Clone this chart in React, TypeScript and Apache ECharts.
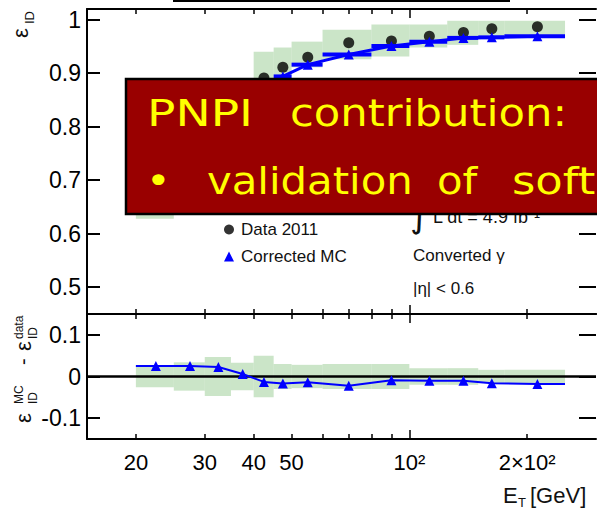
import React, { useEffect, useRef } from 'react';
import * as echarts from 'echarts';

// Photon-ID efficiency binning in E_T [GeV]
const binLow = [20, 25, 30, 35, 40, 45, 50, 60, 80, 100, 125, 150, 175];
const binHigh = [25, 30, 35, 40, 45, 50, 60, 80, 100, 125, 150, 175, 250];
const binCenter = [22.5, 27.5, 32.5, 37.5, 42.5, 47.5, 55, 70, 90, 112.5, 137.5, 162.5, 212.5];

// Data 2011 efficiency and its uncertainty band
const effData = [0.66, 0.74, 0.8, 0.845, 0.891, 0.911, 0.93, 0.957, 0.96, 0.969, 0.976, 0.983, 0.987];
const effDataLow = [0.628, 0.705, 0.755, 0.812, 0.842, 0.874, 0.911, 0.926, 0.931, 0.948, 0.953, 0.97, 0.97];
const effDataHigh = [0.692, 0.775, 0.845, 0.878, 0.94, 0.948, 0.959, 0.981, 0.991, 0.991, 0.998, 0.998, 0.998];

// Corrected MC efficiency
const effMC = [0.685, 0.765, 0.823, 0.851, 0.878, 0.894, 0.916, 0.935, 0.951, 0.959, 0.966, 0.967, 0.969];

// MC - data difference and the half-width of its uncertainty band
const diffMC = [0.025, 0.025, 0.023, 0.006, -0.013, -0.017, -0.014, -0.022, -0.009, -0.01, -0.01, -0.016, -0.018];
const diffErr = [0.026, 0.034, 0.047, 0.033, 0.05, 0.03, 0.028, 0.03, 0.03, 0.02, 0.02, 0.016, 0.016];

// Axis ticks and labels
const xMinorTicks = [20, 30, 40, 50, 60, 70, 80, 90, 200];
const xMajorTicks = [100];
const xLabelValues = [20, 30, 40, 50, 100, 200];
const xLabelText = ['20', '30', '40', '50', '10²', '2×10²'];
const effTicks = [0.5, 0.6, 0.7, 0.8, 0.9, 1];
const diffTicks = [-0.1, 0, 0.1];

const FONT = "'Liberation Sans', Arial, Helvetica, sans-serif";
const SLIDE_FONT = "'Comic Sans MS', 'DejaVu Sans', sans-serif";
const BLUE = '#0000ff';
const BAND = 'rgba(160, 208, 155, 0.55)';

function xAxis(gridIndex: number, position: string, ticks: number[], len: number, showLine: boolean, labels = false) {
  return {
    type: 'log',
    logBase: 10,
    min: 15,
    max: 300,
    gridIndex,
    position,
    axisLine: { show: showLine, onZero: false, lineStyle: { color: '#000', width: 2 } },
    axisTick: { show: true, inside: true, length: len, customValues: ticks, lineStyle: { color: '#000', width: 1.5 } },
    axisLabel: labels
      ? {
          show: true,
          customValues: xLabelValues,
          margin: 12,
          fontSize: 22,
          fontFamily: FONT,
          color: '#000',
          formatter: (v: number) => {
            const i = xLabelValues.findIndex((x) => Math.abs(x - v) / x < 1e-3);
            return i >= 0 ? xLabelText[i] : '';
          },
        }
      : { show: false },
    splitLine: { show: false },
    minorTick: { show: false },
  };
}

function yAxis(gridIndex: number, position: string, min: number, max: number, ticks: number[], labels: boolean, fmt?: (v: number) => string) {
  return {
    type: 'value',
    gridIndex,
    position,
    min,
    max,
    axisLine: { show: position === 'left', onZero: false, lineStyle: { color: '#000', width: 2 } },
    axisTick: { show: true, inside: true, length: position === 'left' ? 13 : 17, customValues: ticks, lineStyle: { color: '#000', width: 2 } },
    axisLabel: labels
      ? { show: true, customValues: ticks, margin: 6, fontSize: 23, fontFamily: FONT, color: '#000', formatter: fmt }
      : { show: false },
    splitLine: { show: false },
  };
}

const bandRender = (params: any, api: any) => {
  const p1 = api.coord([api.value(0), api.value(3)]);
  const p2 = api.coord([api.value(1), api.value(2)]);
  return {
    type: 'rect',
    shape: { x: p1[0], y: p1[1], width: p2[0] - p1[0], height: p2[1] - p1[1] },
    style: { fill: BAND },
  };
};

const barRender = (params: any, api: any) => {
  const p1 = api.coord([api.value(0), api.value(2)]);
  const p2 = api.coord([api.value(1), api.value(2)]);
  return {
    type: 'line',
    shape: { x1: p1[0], y1: p1[1], x2: p2[0], y2: p2[1] },
    style: { stroke: BLUE, lineWidth: 4 },
  };
};

const last = binCenter.length - 1;
const diffLine: any[] = [
  { value: [binLow[0], diffMC[0]], symbol: 'none' },
  ...binCenter.map((x, i) => [x, diffMC[i]]),
  { value: [binHigh[last], diffMC[last]], symbol: 'none' },
];

const txt = (text: string, x: number, y: number, size: number, extra: any = {}) => ({
  type: 'text',
  x,
  y,
  z: 50,
  style: { text, x: 0, y: 0, font: `${size}px ${FONT}`, fill: '#111', verticalAlign: 'middle', align: 'left', ...extra },
});

const slideWord = (text: string, x: number, y: number, scaleX: number) => ({
  type: 'text',
  x,
  y,
  z: 120,
  scaleX,
  style: { text, x: 0, y: 0, font: `38px ${SLIDE_FONT}`, fill: '#ffff00', verticalAlign: 'middle', align: 'left' },
});

const rot = (text: string, lx: number, ly: number, size: number) => ({
  type: 'text',
  style: { text, x: lx, y: ly, font: `${size}px ${FONT}`, fill: '#111', verticalAlign: 'middle', align: 'left' },
});

const option: any = {
  animation: false,
  backgroundColor: '#fff',
  grid: [
    { left: 87, top: 9, width: 509, height: 305 },
    { left: 87, top: 314, width: 509, height: 125 },
  ],
  xAxis: [
    xAxis(0, 'bottom', xMinorTicks, 5, true),
    xAxis(0, 'top', xMinorTicks, 5, true),
    xAxis(0, 'bottom', xMajorTicks, 9, false),
    xAxis(0, 'top', xMajorTicks, 9, false),
    xAxis(1, 'bottom', xMinorTicks, 5, true, true),
    xAxis(1, 'top', xMinorTicks, 5, true),
    xAxis(1, 'bottom', xMajorTicks, 9, false),
    xAxis(1, 'top', xMajorTicks, 9, false),
  ],
  yAxis: [
    yAxis(0, 'left', 0.45, 1.02, effTicks, true, (v: number) => (Math.abs(v - 1) < 1e-6 ? '1' : v.toFixed(1))),
    yAxis(0, 'right', 0.45, 1.02, effTicks, false),
    yAxis(1, 'left', -0.15, 0.15, diffTicks, true, (v: number) => (Math.abs(v) < 1e-6 ? '0' : v.toFixed(1))),
    yAxis(1, 'right', -0.15, 0.15, diffTicks, false),
  ],
  legend: {
    orient: 'vertical',
    left: 219,
    top: 216,
    itemWidth: 10,
    itemHeight: 10,
    itemGap: 10,
    data: [
      { name: 'Data 2011', icon: 'circle' },
      { name: 'Corrected MC', icon: 'triangle' },
    ],
    textStyle: { fontSize: 17, fontFamily: FONT, color: '#111', padding: [0, 0, 0, 2] },
  },
  series: [
    {
      type: 'custom',
      name: 'data band',
      xAxisIndex: 0,
      yAxisIndex: 0,
      z: 1,
      renderItem: bandRender,
      encode: { x: [0, 1], y: [2, 3] },
      data: binLow.map((lo, i) => [lo, binHigh[i], effDataLow[i], effDataHigh[i]]),
    },
    {
      type: 'scatter',
      name: 'Data 2011',
      xAxisIndex: 0,
      yAxisIndex: 0,
      z: 3,
      symbol: 'circle',
      symbolSize: 11,
      itemStyle: { color: '#000' },
      data: binCenter.map((x, i) => [x, effData[i]]),
    },
    {
      type: 'custom',
      name: 'mc bins',
      xAxisIndex: 0,
      yAxisIndex: 0,
      z: 4,
      renderItem: barRender,
      encode: { x: [0, 1], y: 2 },
      data: binLow.map((lo, i) => [lo, binHigh[i], effMC[i]]),
    },
    {
      type: 'line',
      name: 'Corrected MC',
      xAxisIndex: 0,
      yAxisIndex: 0,
      z: 5,
      symbol: 'triangle',
      symbolSize: 10,
      lineStyle: { color: BLUE, width: 3 },
      itemStyle: { color: BLUE },
      data: binCenter.map((x, i) => [x, effMC[i]]),
    },
    {
      type: 'line',
      name: 'zero',
      xAxisIndex: 4,
      yAxisIndex: 2,
      z: 1,
      data: [],
      markLine: {
        silent: true,
        symbol: 'none',
        label: { show: false },
        lineStyle: { color: '#000', width: 2.5, type: 'solid' },
        data: [{ yAxis: 0 }],
      },
    },
    {
      type: 'custom',
      name: 'diff band',
      xAxisIndex: 4,
      yAxisIndex: 2,
      z: 2,
      renderItem: bandRender,
      encode: { x: [0, 1], y: [2, 3] },
      data: binLow.map((lo, i) => [lo, binHigh[i], -diffErr[i], diffErr[i]]),
    },
    {
      type: 'line',
      name: 'MC - data',
      xAxisIndex: 4,
      yAxisIndex: 2,
      z: 5,
      symbol: 'triangle',
      symbolSize: 10,
      lineStyle: { color: BLUE, width: 2 },
      itemStyle: { color: BLUE },
      data: diffLine,
    },
  ],
  graphic: [
    { type: 'line', z: 50, shape: { x1: 173, y1: 1, x2: 510, y2: 1 }, style: { stroke: '#000', lineWidth: 2 } },
    // y-axis titles
    {
      type: 'group',
      x: 0,
      y: 38,
      rotation: Math.PI / 2,
      children: [rot('ε', 0, 20, 22), rot('ID', 14, 29, 13)],
    },
    {
      type: 'group',
      x: 0,
      y: 423,
      rotation: Math.PI / 2,
      children: [
        rot('ε', 0, 23, 22),
        rot('MC', 19, 19, 12),
        rot('ID', 19, 33, 12),
        rot('-', 58, 23, 20),
        rot('ε', 72, 23, 22),
        rot('data', 84, 19, 12),
        rot('ID', 84, 33, 12),
      ],
    },
    // x-axis title
    txt('E', 503, 495, 22),
    txt('T', 518, 502, 13),
    txt('[GeV]', 530, 495, 22),
    // plot annotations
    txt('∫', 410, 214, 36, { font: "36px 'DejaVu Sans', sans-serif" }),
    txt('L dt = 4.9 fb⁻¹', 433, 217, 18),
    txt('Converted γ', 413, 255, 17),
    txt('|η| < 0.6', 413, 288, 17),
    // slide caption box
    {
      type: 'rect',
      z: 100,
      shape: { x: 126, y: 79, width: 490, height: 135 },
      style: { fill: '#990000', stroke: '#000', lineWidth: 2.5 },
    },
    slideWord('PNPI', 147, 113, 1.24),
    slideWord('contribution:', 290, 113, 1.14),
    slideWord('•', 146, 181, 1.1),
    slideWord('validation', 207, 181, 1.1),
    slideWord('of', 437, 181, 1.1),
    slideWord('soft', 512, 181, 1.18),
  ],
};

export default function App() {
  const ref = useRef<HTMLDivElement>(null);
  useEffect(() => {
    if (!ref.current) return;
    const chart = echarts.init(ref.current, undefined, { renderer: 'svg' });
    chart.setOption(option);
    return () => chart.dispose();
  }, []);
  return <div ref={ref} style={{ position: 'absolute', left: 0, top: 0, width: 597, height: 512 }} />;
}
